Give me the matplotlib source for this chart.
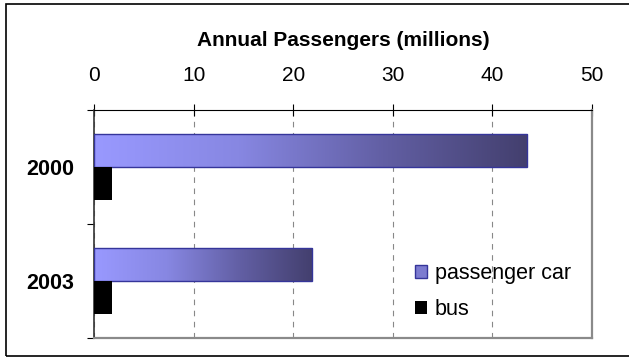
import matplotlib.pyplot as plt
import numpy as np
from matplotlib.colors import LinearSegmentedColormap
from matplotlib.patches import Rectangle

plt.rcParams['font.family'] = ['Liberation Sans', 'DejaVu Sans']

# annual passengers, millions
years = ['2000', '2003']
car = [43.5, 21.9]
bus = [1.8, 1.8]

fig = plt.figure(figsize=(6.29, 3.58), dpi=100)
ax = fig.add_axes([94/629, 20/358, 498/629, 228/358])

y = np.arange(len(years))
h = 0.29
car_bars = ax.barh(y - h/2, car, height=h, facecolor='none', edgecolor='#35359a',
                   lw=1, zorder=3, label='passenger car')
bus_bars = ax.barh(y + h/2, bus, height=h, color='black', zorder=3, label='bus')

# light-to-dark fill along each car bar
cmap = LinearSegmentedColormap.from_list('car', ['#9999ff', '#8787e2', '#625fa4', '#433f6e'])
grad = np.linspace(0, 1, 256).reshape(1, -1)
for b in car_bars:
    x0, y0, w, hh = b.get_x(), b.get_y(), b.get_width(), b.get_height()
    im = ax.imshow(grad, cmap=cmap, extent=[x0, x0 + w, y0 + hh, y0],
                   aspect='auto', zorder=2, interpolation='bicubic')
    im.set_clip_path(b)

ax.set_xlim(0, 50)
ax.set_ylim(1.5, -0.5)

ax.xaxis.tick_top()
ax.xaxis.set_label_position('top')
ax.set_xticks(np.arange(0, 51, 10))
ax.tick_params(axis='x', direction='inout', length=8.6, width=0.8, labelsize=15, pad=14)
ax.set_xlabel('Annual Passengers (millions)', fontsize=15, fontweight='bold', labelpad=14)

ax.set_yticks(y, years, fontweight='bold')
ax.set_yticks([-0.5, 0.5, 1.5], minor=True)
ax.tick_params(axis='y', which='major', length=0, labelsize=15.5, pad=14)
ax.tick_params(axis='y', which='minor', direction='out', length=5, width=0.8)

ax.xaxis.grid(True, ls=(0, (5, 5)), color='#888888', lw=0.8)
ax.set_axisbelow(True)

ax.spines['top'].set_color('black')
ax.spines['left'].set_color('#333333')
ax.spines['left'].set_linewidth(1.2)
for s in ('right', 'bottom'):
    ax.spines[s].set_color('#8a8a8a')
    ax.spines[s].set_linewidth(1.6)

leg = ax.legend(handles=[car_bars, bus_bars], loc='center left',
                bbox_to_anchor=((415 - 94) / 498, (338 - 291.5) / 228),
                frameon=False, fontsize=15.5, handlelength=0.58, handleheight=0.58,
                handletextpad=0.33, labelspacing=0.7, borderpad=0, borderaxespad=0)
leg.legend_handles[0].set_facecolor('#7c7bd0')
leg.legend_handles[0].set_edgecolor('#35359a')

# chart border
fig.add_artist(Rectangle((6.5/629, 2/358), 1, 352/358, transform=fig.transFigure,
                         fill=False, lw=1.2, ec='black'))

fig.savefig('out.png', dpi=100)
